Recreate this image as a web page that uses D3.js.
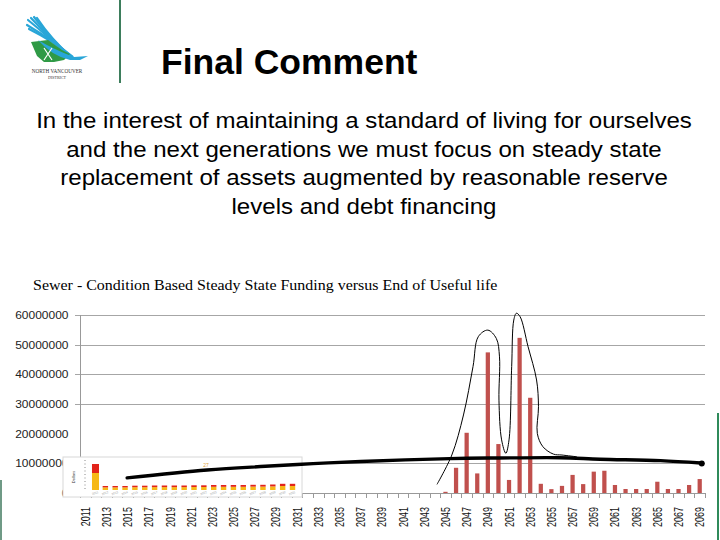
<!DOCTYPE html>
<html>
<head>
<meta charset="utf-8">
<script src="https://cdn.jsdelivr.net/npm/d3@7"></script>
<style>
  html, body { margin: 0; padding: 0; background: #fff; }
  svg { display: block; }
</style>
</head>
<body>
<svg id="chart" width="720" height="540"></svg>
<script>
// ---------------- DATA ----------------
const years = d3.range(2011, 2070);                 // 2011 .. 2069
const labelYears = years.filter(y => (y - 2011) % 2 === 0);
// End-of-useful-life replacement cost per year (dollars); 2011-2044 nil
const eulYears  = [2045, 2046, 2047, 2048, 2049, 2050, 2051, 2052, 2053, 2054, 2055, 2056, 2057,
                   2058, 2059, 2060, 2061, 2062, 2063, 2064, 2065, 2066, 2067, 2068, 2069];
const eulValues = [0.4e6, 8.5e6, 20.3e6, 6.6e6, 47.4e6, 16.5e6, 4.4e6, 52.3e6, 32.1e6, 3.1e6, 1.3e6, 2.4e6, 6.1e6,
                   3.0e6, 7.2e6, 7.5e6, 2.7e6, 1.35e6, 1.35e6, 1.35e6, 3.8e6, 1.35e6, 1.35e6, 2.7e6, 4.7e6];
const yTicks = [0, 10000000, 20000000, 30000000, 40000000, 50000000, 60000000];
const gridTicks = [10000000, 30000000, 40000000, 50000000, 60000000];
// hand-drawn steady state funding line (year, dollars)
const steadyYears  = [2014.95, 2022.5, 2028, 2032.5, 2037, 2045.4, 2050, 2055.8, 2059.6, 2065.3, 2069.1];
const steadyValues = [5.1e6, 7.75e6, 9.0e6, 9.9e6, 10.6e6, 11.6e6, 11.8e6, 11.9e6, 11.4e6, 10.9e6, 10.1e6];
// hand-drawn outline around the peaks (year, dollars)
const outlineYears  = [2044.2, 2045.6, 2046.7, 2047.6, 2048.1, 2049.0, 2049.8, 2050.1, 2050.05, 2050.3, 2050.7,
                       2051.0, 2051.25, 2051.45, 2051.7, 2052.05, 2052.8, 2053.6, 2053.78, 2053.67, 2054.2, 2055.2, 2056.0, 2057.4];
const outlineValues = [2.9e6, 12.8e6, 26.3e6, 42.6e6, 52.7e6, 54.9e6, 52.1e6, 45.9e6, 31.3e6, 17.9e6, 13.4e6,
                       17.9e6, 42.6e6, 58.3e6, 60.6e6, 59.4e6, 49.3e6, 38.1e6, 29.1e6, 20.1e6, 15.6e6, 13.1e6, 12.8e6, 12.2e6];
// inset chart (pasted screenshot of the steady state chart), 2011-2031
const insetYears  = d3.range(2011, 2032);
const insetLower  = [17, 2.6, 2.6, 2.6, 2.8, 2.8, 2.9, 2.9, 2.9, 2.9, 3.0, 3.0, 3.2, 3.2, 3.2, 3.2, 3.4, 3.4, 3.6, 4.0, 4.0];
const insetUpper  = [9, 1.4, 1.4, 1.4, 1.5, 1.5, 1.6, 1.6, 1.6, 1.6, 1.7, 1.7, 1.8, 1.8, 1.8, 1.8, 1.8, 1.8, 1.9, 2.2, 2.2];

const paragraph = [
  "In the interest of maintaining a standard of living for ourselves",
  "and the next generations we must focus on steady state",
  "replacement of assets augmented by reasonable reserve",
  "levels and debt financing"
];

// ---------------- DRAW ----------------
const svg = d3.select("#chart");
svg.append("rect").attr("width", 720).attr("height", 540).attr("fill", "#fff");

// ---- header: logo ----
const logo = svg.append("g");
const blue = "#29a6d8", green = "#2f9a46";
const featherStarts = [[28,20],[31,18],[34,17],[37,18],[27,25],[29,29]];
featherStarts.forEach((p, i) => {
  logo.append("path")
    .attr("d", `M${p[0]},${p[1]} Q${48 + i},${36 + i} ${70 + i*0.5},${58 - i*0.3}`)
    .attr("fill", "none").attr("stroke", blue).attr("stroke-width", 2.2).attr("stroke-linecap", "round");
});
logo.append("path")
  .attr("d", "M31,42 L48,40 L62,50 L70,54 L64,60 L54,62 L44,62 L37,56 Z")
  .attr("fill", green);
logo.append("path")
  .attr("d", "M38,40 Q55,50 74,57 L88,56 L80,60 L70,60 Q52,56 38,40 Z")
  .attr("fill", blue);
logo.append("path")
  .attr("d", "M44,48 L52,60 M52,48 L44,60").attr("stroke", "#fff").attr("stroke-width", 1.2);
logo.append("text").attr("x", 57).attr("y", 73).attr("text-anchor", "middle")
  .attr("font-family", "Liberation Serif, serif").attr("font-size", 5.2).attr("fill", "#333")
  .text("NORTH VANCOUVER");
logo.append("text").attr("x", 57).attr("y", 79).attr("text-anchor", "middle")
  .attr("font-family", "Liberation Serif, serif").attr("font-size", 4).attr("fill", "#333")
  .text("DISTRICT");

// separator line
svg.append("line").attr("x1", 120).attr("x2", 120).attr("y1", 0).attr("y2", 83)
  .attr("stroke", "#3d7d5c").attr("stroke-width", 2);

// title
svg.append("text").attr("x", 161).attr("y", 74)
  .attr("font-family", "Liberation Sans, Arial, sans-serif").attr("font-weight", "bold")
  .attr("font-size", 35.5).attr("fill", "#000").text("Final Comment");

// paragraph (slightly stretched horizontally, as in the slide)
svg.append("g").attr("transform", "translate(364,0) scale(1.075,1)")
  .selectAll("text").data(paragraph).join("text")
  .attr("x", 0).attr("y", (d, i) => 128 + i * 28.7)
  .attr("text-anchor", "middle")
  .attr("font-family", "Liberation Sans, Arial, sans-serif")
  .attr("font-size", 22.4).attr("fill", "#000")
  .text(d => d);

// chart title
svg.append("text").attr("transform", "translate(33,290) scale(1.094,1)")
  .attr("font-family", "Liberation Serif, 'Times New Roman', serif")
  .attr("font-size", 14.6).attr("fill", "#000")
  .text("Sewer - Condition Based Steady State Funding versus End of Useful life");

// slide decorations (green edges)
svg.append("line").attr("x1", 1).attr("x2", 1).attr("y1", 480).attr("y2", 540)
  .attr("stroke", "#6f9a86").attr("stroke-width", 2);
svg.append("line").attr("x1", 718).attr("x2", 718).attr("y1", 413).attr("y2", 540)
  .attr("stroke", "#2f8a5a").attr("stroke-width", 2);

// ---- main chart ----
const x = d3.scaleBand().domain(years).range([80, 705]).paddingInner(0.6).paddingOuter(0.3);
const y = d3.scaleLinear().domain([0, 60000000]).range([493, 315]);
const xc = d3.scaleLinear().domain([2011, 2069])
  .range([x(2011) + x.bandwidth() / 2, x(2069) + x.bandwidth() / 2]);

// gridlines
svg.append("g").selectAll("line").data(gridTicks).join("line")
  .attr("x1", 75).attr("x2", 705)
  .attr("y1", d => Math.round(y(d)) + 0.5).attr("y2", d => Math.round(y(d)) + 0.5)
  .attr("stroke", "#a6a6a6").attr("stroke-width", 1);

// y axis
const yAxis = d3.axisLeft(y).tickValues(yTicks).tickSize(0).tickPadding(0).tickFormat(d3.format("d"));
const gy = svg.append("g").attr("transform", "translate(80.5,0)").call(yAxis);
gy.select(".domain").attr("stroke", "#999").attr("d", `M0,${y(60000000)}V${y(0)}`);
gy.selectAll("text")
  .attr("x", 0).attr("dy", "0.35em")
  .attr("transform", "translate(-12,0) scale(1.2,1)")
  .attr("font-family", "Liberation Sans, Arial, sans-serif")
  .attr("font-size", 10).attr("fill", "#222");

// x axis line and ticks at category boundaries
const gx = svg.append("g");
gx.append("line").attr("x1", 80).attr("x2", 705).attr("y1", 493.5).attr("y2", 493.5)
  .attr("stroke", "#999");
const boundaries = years.map(yr => x(yr) - x.step() * x.paddingInner() / 2).concat([705]);
gx.selectAll("line.tk").data(boundaries).join("line").attr("class", "tk")
  .attr("x1", d => Math.round(d) + 0.5).attr("x2", d => Math.round(d) + 0.5)
  .attr("y1", 493).attr("y2", 498).attr("stroke", "#999");
gx.selectAll("text").data(labelYears).join("text")
  .attr("transform", d => `translate(${x(d) + x.bandwidth() / 2},507) rotate(-90) scale(0.72,1)`)
  .attr("text-anchor", "end").attr("dy", "0.36em")
  .attr("font-family", "Liberation Sans, Arial, sans-serif")
  .attr("font-size", 12.5).attr("fill", "#111")
  .text(d => d);

// bars
const eul = eulYears.map((yr, i) => ({ year: yr, value: eulValues[i] }));
svg.append("g").selectAll("rect").data(eul).join("rect")
  .attr("x", d => x(d.year)).attr("width", x.bandwidth())
  .attr("y", d => y(d.value)).attr("height", d => y(0) - y(d.value))
  .attr("fill", "#c0504d");

// ---- inset (pasted small chart) ----
const inset = svg.append("g");
inset.append("rect").attr("x", 63).attr("y", 457).attr("width", 239).attr("height", 40)
  .attr("fill", "#fff").attr("stroke", "#d8d8d8").attr("stroke-width", 1);
const xi = d3.scaleBand().domain(insetYears).range([91.8, 296.2]).paddingInner(0.45).paddingOuter(0.1);
const yi = d3.scaleLinear().domain([0, 30]).range([490, 460]);
inset.append("line").attr("x1", 85).attr("x2", 85).attr("y1", 460).attr("y2", 490)
  .attr("stroke", "#888").attr("stroke-dasharray", "1,2.5");
inset.append("text").attr("transform", "translate(75,477) rotate(-90)")
  .attr("text-anchor", "middle").attr("font-family", "Liberation Sans, Arial, sans-serif")
  .attr("font-size", 4).attr("fill", "#333").text("Dollars");
const insetData = insetYears.map((yr, i) => ({ year: yr, lo: insetLower[i], hi: insetUpper[i] }));
inset.append("g").selectAll("rect").data(insetData).join("rect")
  .attr("x", (d, i) => i === 0 ? xi(d.year) - 0.8 : xi(d.year))
  .attr("width", (d, i) => i === 0 ? xi.bandwidth() + 1.6 : xi.bandwidth())
  .attr("y", d => yi(d.lo)).attr("height", d => yi(0) - yi(d.lo))
  .attr("fill", "#f6b817");
inset.append("g").selectAll("rect").data(insetData).join("rect")
  .attr("x", (d, i) => i === 0 ? xi(d.year) - 0.8 : xi(d.year))
  .attr("width", (d, i) => i === 0 ? xi.bandwidth() + 1.6 : xi.bandwidth())
  .attr("y", d => yi(d.lo + d.hi)).attr("height", d => yi(d.lo) - yi(d.lo + d.hi))
  .attr("fill", "#e2231a");
inset.append("g").selectAll("text").data(insetYears).join("text")
  .attr("transform", d => `translate(${xi(d) + xi.bandwidth() / 2},494) rotate(-20)`)
  .attr("text-anchor", "middle").attr("font-family", "Liberation Sans, Arial, sans-serif")
  .attr("font-size", 3).attr("fill", "#999").text(d => d);
inset.append("text").attr("x", 206).attr("y", 467).attr("text-anchor", "middle")
  .attr("font-family", "Liberation Sans, Arial, sans-serif").attr("font-size", 5)
  .attr("fill", "#e0a040").text("27");

// ---- hand-drawn annotations ----
const outline = outlineYears.map((yr, i) => [yr, outlineValues[i]]);
svg.append("path").datum(outline)
  .attr("d", d3.line().x(d => xc(d[0])).y(d => y(d[1])).curve(d3.curveCatmullRom.alpha(0.5)))
  .attr("fill", "none").attr("stroke", "#000").attr("stroke-width", 1);

const steady = steadyYears.map((yr, i) => [yr, steadyValues[i]]);
svg.append("path").datum(steady)
  .attr("d", d3.line().x(d => xc(d[0])).y(d => y(d[1])).curve(d3.curveCatmullRom.alpha(0.5)))
  .attr("fill", "none").attr("stroke", "#000").attr("stroke-width", 3.4)
  .attr("stroke-linecap", "round");
svg.append("circle").datum(steady[steady.length - 1])
  .attr("cx", d => xc(d[0]) + 1).attr("cy", d => y(d[1]) + 0.5).attr("r", 3).attr("fill", "#000");
</script>
</body>
</html>
